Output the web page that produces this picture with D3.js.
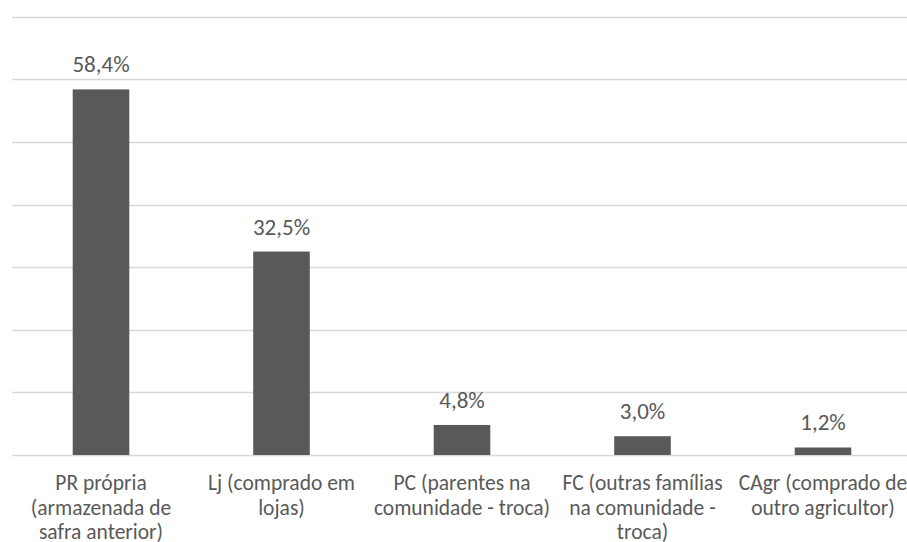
<!DOCTYPE html>
<html>
<head>
<meta charset="utf-8">
<script src="https://cdn.jsdelivr.net/npm/d3@7"></script>
<style>
  html, body { margin: 0; padding: 0; background: #fff; }
  svg { display: block; }
  text { font-family: Carlito, Calibri, Lato, "Liberation Sans", sans-serif; fill: #595959; }
</style>
</head>
<body>
<svg id="chart" width="907" height="542"></svg>
<script>
// Origem da semente (% dos agricultores)
const categories = ["PR", "Lj", "PC", "FC", "CAgr"];
const categoryLines = [
  ["PR própria", "(armazenada de", "safra anterior)"],
  ["Lj (comprado em", "lojas)"],
  ["PC (parentes na", "comunidade - troca)"],
  ["FC (outras famílias", "na comunidade -", "troca)"],
  ["CAgr (comprado de", "outro agricultor)"]
];
const values = [58.4, 32.5, 4.8, 3.0, 1.2];
const valueLabels = ["58,4%", "32,5%", "4,8%", "3,0%", "1,2%"];
const yTicks = [0, 10, 20, 30, 40, 50, 60, 70];

const svg = d3.select("#chart");
const W = 907, H = 542;
const plot = { left: 10.75, right: 913.25, top: 16.8, bottom: 455 };

const x = d3.scaleBand()
  .domain(categories)
  .range([plot.left, plot.right])
  .paddingInner(0)
  .paddingOuter(0);

const y = d3.scaleLinear()
  .domain([0, 70])
  .range([plot.bottom, plot.top]);

const barW = x.step() / 3.19; // gap width 219%

// horizontal gridlines
svg.append("g")
  .selectAll("line")
  .data(yTicks)
  .join("line")
  .attr("x1", 12)
  .attr("x2", W)
  .attr("y1", d => Math.round(y(d)) + 0.5)
  .attr("y2", d => Math.round(y(d)) + 0.5)
  .attr("stroke", "#d9d9d9")
  .attr("stroke-width", d => d === 0 ? 1.4 : 1.3);

// bars
svg.append("g")
  .selectAll("rect")
  .data(values)
  .join("rect")
  .attr("x", (d, i) => x(categories[i]) + x.bandwidth() / 2 - barW / 2)
  .attr("y", d => y(d))
  .attr("width", barW)
  .attr("height", d => y(0) - y(d))
  .attr("fill", "#595959");

// value labels
svg.append("g")
  .selectAll("text")
  .data(values)
  .join("text")
  .attr("x", (d, i) => x(categories[i]) + x.bandwidth() / 2)
  .attr("y", d => y(d) - 17)
  .attr("text-anchor", "middle")
  .attr("font-size", 23)
  .text((d, i) => valueLabels[i]);

// category labels
const cat = svg.append("g")
  .selectAll("text")
  .data(categoryLines)
  .join("text")
  .attr("text-anchor", "middle")
  .attr("font-size", 21.5)
  .attr("transform", (d, i) => `translate(${x(categories[i]) + x.bandwidth() / 2},${plot.bottom + 35})`);

cat.selectAll("tspan")
  .data(d => d)
  .join("tspan")
  .attr("x", 0)
  .attr("dy", (d, i) => i === 0 ? 0 : 24.5)
  .text(d => d);
</script>
</body>
</html>
